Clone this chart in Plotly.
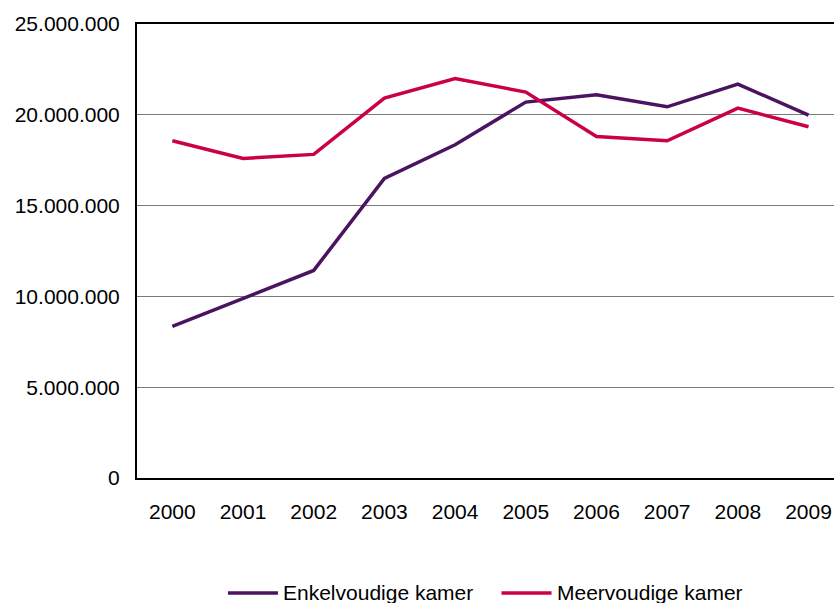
import plotly.graph_objects as go

years = ["2000", "2001", "2002", "2003", "2004", "2005", "2006", "2007", "2008", "2009"]
enkelvoudig = [8350000, 9890000, 11430000, 16500000, 18350000, 20700000, 21100000, 20440000, 21690000, 19980000]
meervoudig = [18570000, 17600000, 17820000, 20920000, 22000000, 21250000, 18810000, 18570000, 20370000, 19340000]
series_names = ["Enkelvoudige kamer", "Meervoudige kamer"]
y_ticks = [0, 5000000, 10000000, 15000000, 20000000, 25000000]
y_tick_text = ["0", "5.000.000", "10.000.000", "15.000.000", "20.000.000", "25.000.000"]

PURPLE = "#4b1460"
RED = "#cc0044"
FONT = "Liberation Sans, Arial, sans-serif"

fig = go.Figure()
fig.add_trace(go.Scatter(x=years, y=enkelvoudig, mode="lines", name=series_names[0],
                         line=dict(color=PURPLE, width=3.5), showlegend=False))
fig.add_trace(go.Scatter(x=years, y=meervoudig, mode="lines", name=series_names[1],
                         line=dict(color=RED, width=3.5), showlegend=False))

# hand-drawn legend below the plot
legend_y = -0.2533
items = [(PURPLE, series_names[0], 0.1305), (RED, series_names[1], 0.5230)]
for color, label, x0 in items:
    fig.add_shape(type="line", xref="paper", yref="paper",
                  x0=x0, x1=x0 + 50 / 697, y0=legend_y, y1=legend_y,
                  line=dict(color=color, width=3.5))
    fig.add_annotation(xref="paper", yref="paper", x=x0 + 53 / 697, y=legend_y,
                       text=label, showarrow=False, xanchor="left", yanchor="middle",
                       font=dict(family=FONT, size=21, color="#000000"))

fig.update_layout(
    width=834, height=603,
    margin=dict(l=137, r=0, t=24, b=125),
    paper_bgcolor="white", plot_bgcolor="white",
    font=dict(family=FONT, size=21, color="#000000"),
    xaxis=dict(
        type="category", range=[-0.5, 9.36],
        showline=True, linecolor="#000000", linewidth=2, mirror=True,
        showgrid=False, ticks="", ticklabelstandoff=14,
        tickfont=dict(family=FONT, size=21),
    ),
    yaxis=dict(
        range=[0, 25000000], tickvals=y_ticks, ticktext=y_tick_text,
        showline=True, linecolor="#000000", linewidth=2,
        showgrid=True, gridcolor="#7a7a7a", gridwidth=1,
        zeroline=False, ticks="", ticklabelstandoff=11,
        tickfont=dict(family=FONT, size=21),
    ),
)

fig.write_html("out.html")
